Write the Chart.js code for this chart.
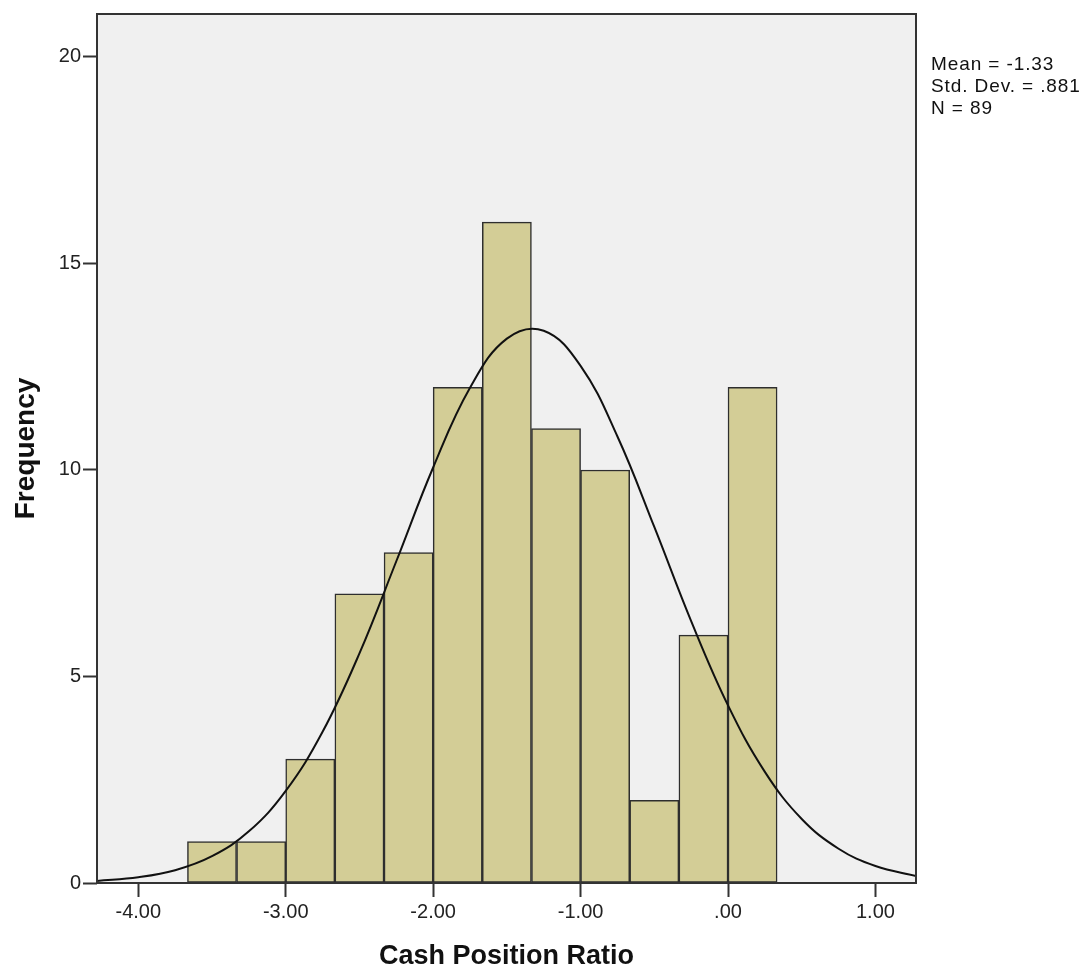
<!DOCTYPE html>
<html>
<head>
<meta charset="utf-8">
<title>Cash Position Ratio histogram</title>
<script src="https://cdn.jsdelivr.net/npm/chart.js@4/dist/chart.umd.min.js"></script>
<style>
    html, body { margin: 0; padding: 0; background: #fff; }
    #chart-wrap { width: 1088px; height: 971px; }
</style>
</head>
<body>
<div id="chart-wrap"><canvas id="hist" width="1088" height="971"></canvas></div>
<script>
// Histogram bins (edges) and their frequencies
const binEdges = [-3.667, -3.333, -3.0, -2.667, -2.333, -2.0, -1.667, -1.333, -1.0, -0.667, -0.333, 0.0, 0.333];
const binCounts = [1, 1, 3, 7, 8, 12, 16, 11, 10, 2, 6, 12];

// Normal curve overlay
const curveX = [-4.28, -4.0, -3.75, -3.5, -3.25, -3.0, -2.75, -2.5, -2.25, -2.0, -1.75, -1.5,
                -1.25, -1.0, -0.75, -0.5, -0.25, 0.0, 0.25, 0.5, 0.75, 1.0, 1.275];
const curveY = [0.05, 0.14, 0.31, 0.65, 1.25, 2.23, 3.66, 5.56, 7.79, 10.06, 11.99, 13.18,
                13.37, 12.52, 10.81, 8.62, 6.34, 4.30, 2.69, 1.55, 0.83, 0.41, 0.17];

// Axis ticks
const xTickValues = [-4, -3, -2, -1, 0, 1];
const xTickLabels = ['-4.00', '-3.00', '-2.00', '-1.00', '.00', '1.00'];
const yTickValues = [0, 5, 10, 15, 20];
const yTickLabels = ['0', '5', '10', '15', '20'];

// Summary statistics shown to the right of the plot
const statLines = ['Mean = -1.33', 'Std. Dev. = .881', 'N = 89'];

const FONT = "'Liberation Sans', Arial, Helvetica, sans-serif";

/**
 * Fill the plot area grey and draw the frame and stats box
 */
const plotFrame = {
    id: 'plotFrame',
    beforeDatasetsDraw(chart) {
        const { ctx, chartArea: a } = chart;
        ctx.save();
        ctx.fillStyle = '#f0f0f0';
        ctx.fillRect(a.left, a.top, a.right - a.left, a.bottom - a.top);
        ctx.restore();
    },
    afterDraw(chart) {
        const { ctx, chartArea: a } = chart;
        ctx.save();
        ctx.strokeStyle = '#333';
        ctx.lineWidth = 2;
        ctx.strokeRect(a.left, a.top, a.right - a.left, a.bottom - a.top);

        // stats text
        ctx.fillStyle = '#111';
        ctx.font = '19px ' + FONT;
        ctx.textBaseline = 'alphabetic';
        ctx.textAlign = 'left';
        if ('letterSpacing' in ctx) ctx.letterSpacing = '0.9px';
        statLines.forEach((line, i) => {
            ctx.fillText(line, a.right + 15, 70 + i * 22);
        });
        ctx.restore();
    }
};

const bars = binCounts.map((c, i) => ({ x: (binEdges[i] + binEdges[i + 1]) / 2, y: c }));
const curve = curveX.map((x, i) => ({ x: x, y: curveY[i] }));

new Chart(document.getElementById('hist').getContext('2d'), {
    type: 'bar',
    data: {
        datasets: [{
            type: 'line',
            data: curve,
            borderColor: '#111',
            borderWidth: 2,
            pointRadius: 0,
            fill: false,
            tension: 0.4,
            order: 0
        }, {
            type: 'bar',
            data: bars,
            backgroundColor: '#d3cd96',
            borderColor: '#2e2e2e',
            borderWidth: 1.5,
            borderSkipped: false,
            barPercentage: 1,
            categoryPercentage: 1,
            order: 1
        }]
    },
    options: {
        responsive: false,
        animation: false,
        events: [],
        layout: {
            padding: { top: 12, right: 172, left: 0, bottom: 0 }
        },
        plugins: {
            legend: { display: false },
            tooltip: { enabled: false }
        },
        scales: {
            x: {
                type: 'linear',
                min: -4.28,
                max: 1.275,
                offset: false,
                afterBuildTicks: function(scale) {
                    scale.ticks = xTickValues.map(v => ({ value: v }));
                },
                afterFit: function(scale) {
                    scale.height = 88;
                },
                ticks: {
                    color: '#222',
                    font: { family: FONT, size: 20 },
                    padding: 3,
                    maxRotation: 0,
                    callback: function(value) {
                        const i = xTickValues.indexOf(value);
                        return i >= 0 ? xTickLabels[i] : '';
                    }
                },
                grid: {
                    offset: false,
                    drawOnChartArea: false,
                    drawTicks: true,
                    tickLength: 14,
                    tickColor: '#333',
                    tickWidth: 2
                },
                border: { display: false },
                title: {
                    display: true,
                    text: 'Cash Position Ratio',
                    color: '#111',
                    font: { family: FONT, size: 27, weight: 'bold', lineHeight: 1 },
                    padding: { top: 0, bottom: 1 }
                }
            },
            y: {
                min: 0,
                max: 21.04,
                afterBuildTicks: function(scale) {
                    scale.ticks = yTickValues.map(v => ({ value: v }));
                },
                afterFit: function(scale) {
                    scale.width = 97;
                },
                ticks: {
                    color: '#222',
                    font: { family: FONT, size: 20 },
                    padding: 2,
                    callback: function(value) {
                        const i = yTickValues.indexOf(value);
                        return i >= 0 ? yTickLabels[i] : '';
                    }
                },
                grid: {
                    drawOnChartArea: false,
                    drawTicks: true,
                    tickLength: 14,
                    tickColor: '#333',
                    tickWidth: 2
                },
                border: { display: false },
                title: {
                    display: true,
                    text: 'Frequency',
                    color: '#111',
                    font: { family: FONT, size: 28, weight: 'bold', lineHeight: 1 },
                    padding: { top: 12, bottom: 0 }
                }
            }
        }
    },
    plugins: [plotFrame]
});
</script>
</body>
</html>
